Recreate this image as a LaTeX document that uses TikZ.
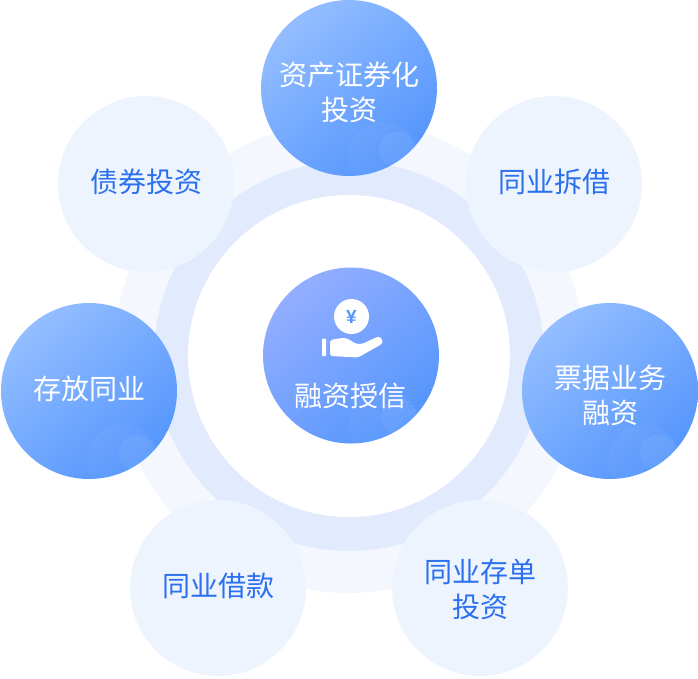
\documentclass[tikz,border=0pt]{standalone}
\usepackage{fontspec}
\newfontfamily\cjk{Noto Sans CJK SC}
\newfontfamily\coinfont{Liberation Sans}
\usetikzlibrary{positioning,calc}
\definecolor{ringout}{HTML}{F4F8FE}
\definecolor{ringmid}{HTML}{E1EBFD}
\definecolor{palefill}{HTML}{EEF4FE}
\definecolor{paletext}{HTML}{2B70EE}
\definecolor{lightblue}{HTML}{93BDFF}
\definecolor{deepblue}{HTML}{5596FD}
\definecolor{violetblue}{HTML}{93AEFF}
\definecolor{dotblue}{HTML}{3F78E0}
\tikzset{blob/.style={circle, minimum size=176pt, inner sep=0pt}}
\tikzset{blobtext/.style={align=center, inner sep=0pt, font=\cjk\fontsize{28}{35}\selectfont}}
\tikzset{bubbles/.style={path picture={
	\fill[white, opacity=0.04] ($(path picture bounding box.center)+(34,70)$) circle (36);
	\fill[white, opacity=0.06] ($(path picture bounding box.center)+(48,62)$) circle (18);
}}}
\tikzset{pale/.style={blob, fill=palefill}}
\tikzset{strong/.style={blob, bubbles, top color=lightblue, bottom color=deepblue, shading angle=40}}
\tikzset{oneline/.style 2 args={label={[blobtext, text=#1, yshift=2pt]center:#2}}}
\tikzset{twolines/.style 2 args={label={[blobtext, text=#1, yshift=-4.5pt]center:#2}}}
\begin{document}
\begin{tikzpicture}[x=1pt, y=-1pt]
	\useasboundingbox (0,0) rectangle (698,678);
	% rings
	\fill[ringout] (349,357) circle (236);
	\fill[ringmid] (349,356) circle (195);
	\fill[white] (349,356) circle (161);
	% middle
	\node[strong, top color=violetblue, bottom color=deepblue, shading angle=40] (hub) at (351,355.5) {};
	\begin{scope}
		\clip (hub.center) circle (87);
		\foreach \i in {0,...,9}
			\foreach \j in {0,...,\i}
				\fill[dotblue, opacity=0.35] ($(hub.center)+(86-3.5*\j,52-3.5*\i+3.5*\j)$) circle (0.7);
	\end{scope}
	\node[blobtext, text=white] (hubtext) at (350,396) {融资授信};
	\node[circle, fill=white, minimum size=35pt, inner sep=0pt, text=deepblue, font=\coinfont\bfseries\fontsize{19}{19}\selectfont] (coin) at (351.5,316.5) {¥};
	\fill[white, rounded corners=1] (322,338.5) rectangle (326,356);
	\fill[white, rounded corners=2] (330,340) -- (342,338) .. controls (350,338) and (352,344) .. (362,344)
		-- (376,337.5) .. controls (381,336) and (384,342) .. (380,345) -- (358,357.5) -- (330,356) -- cycle;
	% outer items
	\node[strong, twolines={white}{资产证券化\\投资}] (abs) at (349,88) {};
	\node[pale, oneline={paletext}{同业拆借}] (lend) at (554,184) {};
	\node[strong, twolines={white}{票据业务\\融资}] (bill) at (610,391) {};
	\node[pale, label={[blobtext, text=paletext, yshift=-1.5pt]center:同业存单\\投资}] (cert) at (480,588) {};
	\node[pale, oneline={paletext}{同业借款}] (borrow) at (218,588) {};
	\node[strong, oneline={white}{存放同业}] (deposit) at (89,391) {};
	\node[pale, oneline={paletext}{债券投资}] (bond) at (146,184) {};
\end{tikzpicture}
\end{document}
